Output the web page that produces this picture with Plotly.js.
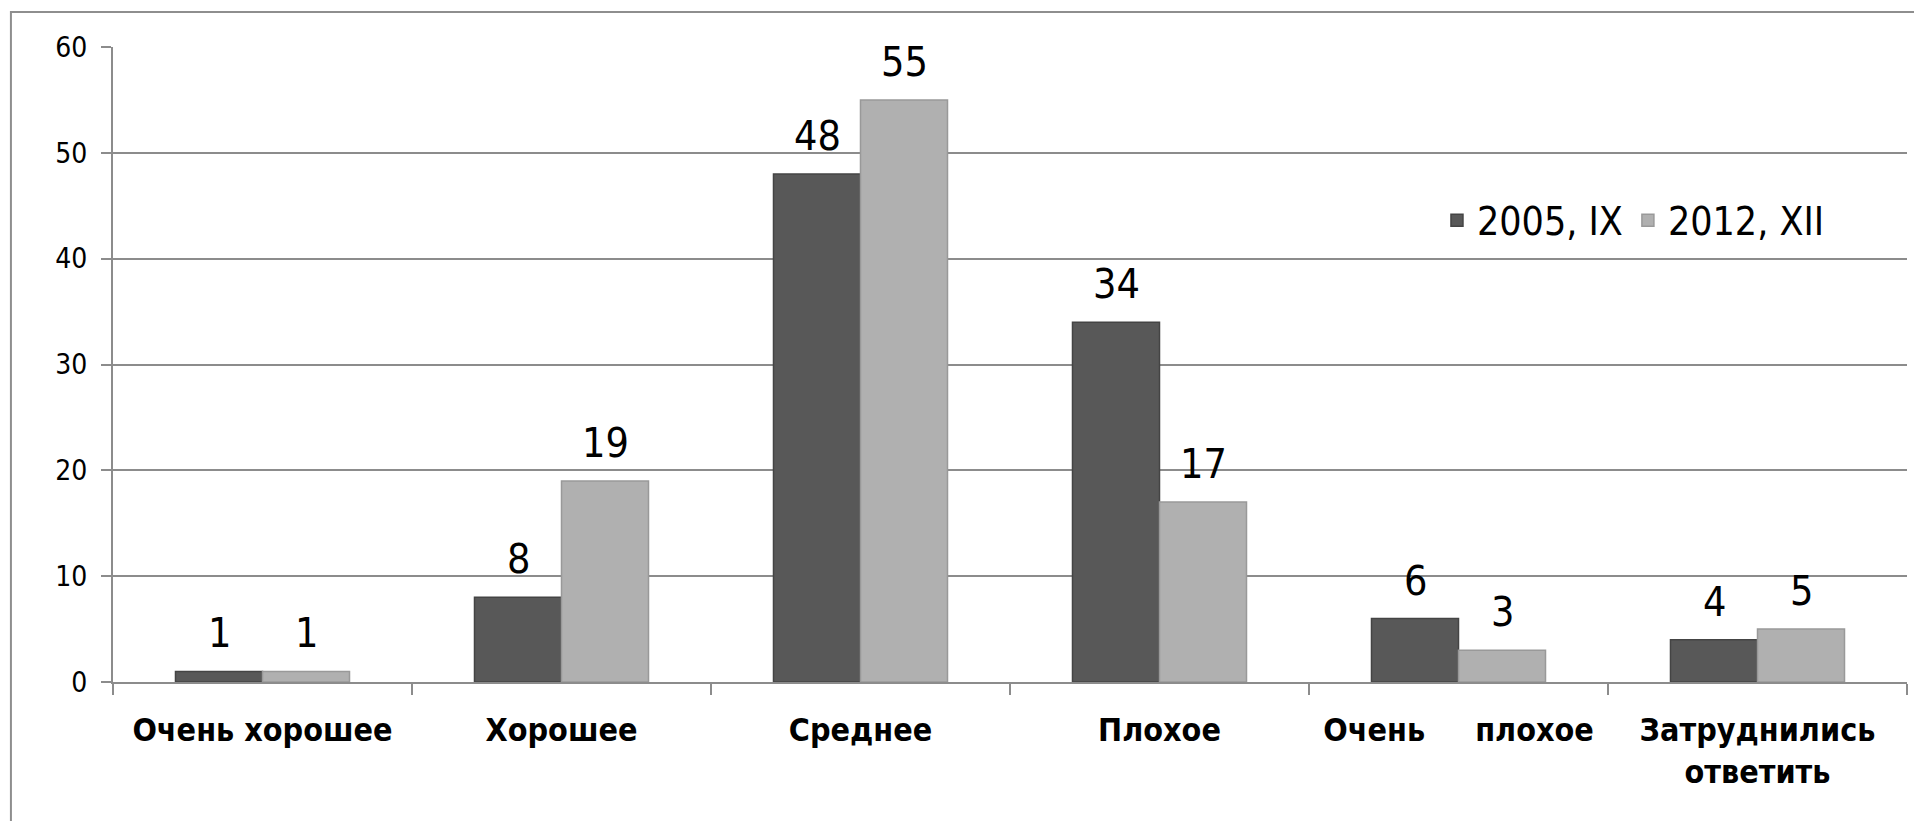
<!DOCTYPE html>
<html>
<head>
<meta charset="utf-8">
<script src="https://cdn.plot.ly/plotly-3.0.1.min.js"></script>
<style>html,body{margin:0;padding:0;background:#fff;}#chart{width:1914px;height:821px;}</style>
</head>
<body>
<div id="chart"></div>
<script>
// ---- data ----
var categories = ["Очень хорошее", "Хорошее", "Среднее", "Плохое", "Очень плохое", "Затруднились ответить"];
var tickLabels = ["Очень хорошее", "Хорошее", "Среднее", "Плохое",
                  "Очень\u00A0\u00A0\u00A0\u00A0\u00A0плохое", "Затруднились<br>ответить"];
var seriesNames = ["2005, IX", "2012, XII"];
var values2005 = [1, 8, 48, 34, 6, 4];
var values2012 = [1, 19, 55, 17, 3, 5];
var yTicks = [0, 10, 20, 30, 40, 50, 60];

// ---- style ----
var NARROW = "'Liberation Sans Narrow', 'DejaVu Sans Condensed', 'Liberation Sans', sans-serif";
var GRID = "#8c8c8c";
var bargap = 0.418;
var barW = (1 - bargap) / 2;
var colors = ["#585858", "#b0b0b0"];
var lineColors = ["#444444", "#999999"];
var allSeries = [values2005, values2012];

var traces = allSeries.map(function (vals, k) {
  return {
    type: "bar",
    name: seriesNames[k],
    x: categories,
    y: vals,
    marker: { color: colors[k], line: { color: lineColors[k], width: 1.5 } },
    hoverinfo: "x+y+name"
  };
});

var annotations = [];
allSeries.forEach(function (vals, k) {
  var off = (k === 0 ? -1 : 1) * barW / 2;
  vals.forEach(function (v, i) {
    annotations.push({
      x: i + off, y: v, xref: "x", yref: "y",
      text: String(v), showarrow: false,
      yanchor: "bottom", yshift: 12,
      font: { family: NARROW, size: 41, color: "#000" }
    });
  });
});

var layout = {
  width: 1914, height: 821,
  margin: { l: 113, r: 7, t: 47, b: 139, pad: 0 },
  paper_bgcolor: "#fff", plot_bgcolor: "#fff",
  barmode: "group", bargap: bargap, bargroupgap: 0,
  showlegend: true,
  legend: {
    orientation: "h", x: 0.738, xanchor: "left", y: 0.727, yanchor: "middle",
    bgcolor: "rgba(0,0,0,0)", font: { family: NARROW, size: 39, color: "#000" },
    traceorder: "normal", itemclick: false
  },
  xaxis: {
    type: "category",
    tickmode: "array", tickvals: categories, ticktext: tickLabels,
    tickangle: 0,
    showline: true, linecolor: GRID, linewidth: 2,
    ticks: "outside", tickson: "boundaries", ticklen: 11, tickwidth: 2, tickcolor: GRID,
    showgrid: false, zeroline: false,
    tickfont: { family: NARROW, size: 32, color: "#000", weight: "bold" },
    ticklabelstandoff: 19,
    fixedrange: true
  },
  yaxis: {
    range: [0, 60], tickmode: "array", tickvals: yTicks,
    showline: true, linecolor: GRID, linewidth: 2,
    ticks: "outside", ticklen: 10, tickwidth: 2, tickcolor: GRID,
    showgrid: true, gridcolor: GRID, gridwidth: 2, zeroline: false,
    tickfont: { family: NARROW, size: 28, color: "#000" },
    ticklabelstandoff: 8,
    fixedrange: true
  },
  annotations: annotations,
  shapes: [
    { type: "rect", xref: "paper", yref: "paper", layer: "below",
      x0: -0.0569, x1: 1.02, y0: -0.3, y1: 1.0551,
      line: { color: "#8e8e8e", width: 2 }, fillcolor: "rgba(0,0,0,0)" },
    { type: "rect", xref: "paper", yref: "paper", layer: "between",
      x0: 0.7324, x1: 0.9543, y0: 0.641, y1: 0.8535,
      line: { width: 0 }, fillcolor: "#ffffff" }
  ]
};

Plotly.newPlot("chart", traces, layout, { displayModeBar: false, staticPlot: false });
</script>
</body>
</html>
